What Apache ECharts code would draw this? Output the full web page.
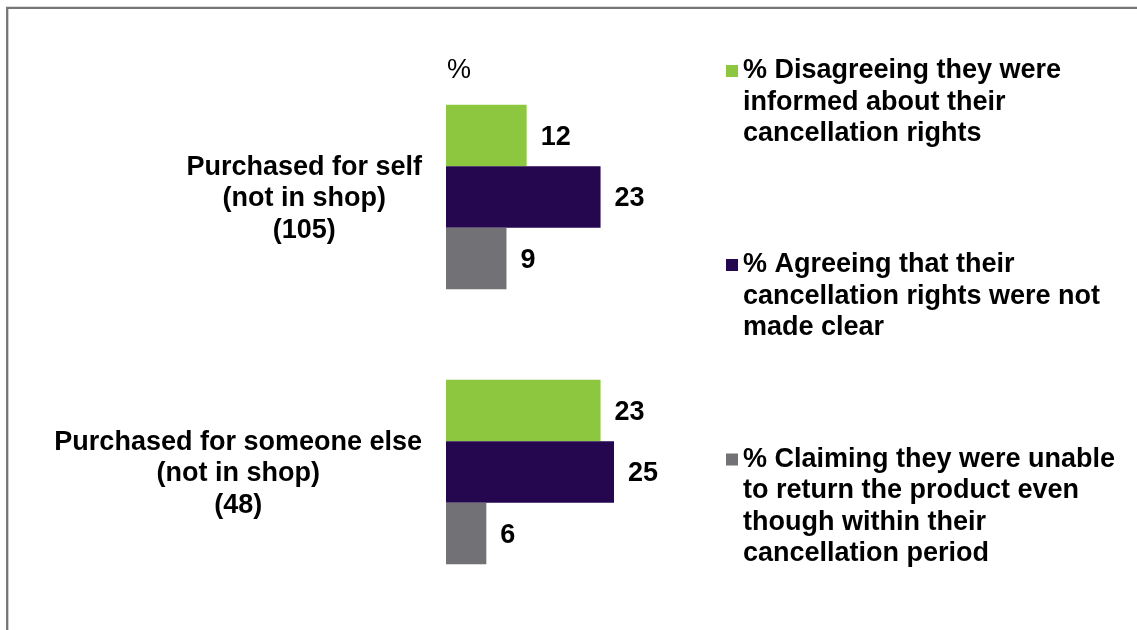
<!DOCTYPE html>
<html>
<head>
<meta charset="utf-8">
<title>Cancellation rights</title>
<script src="https://cdn.jsdelivr.net/npm/echarts@6/dist/echarts.min.js"></script>
<style>
  html, body { margin: 0; padding: 0; background: #ffffff; }
  #chart { width: 1137px; height: 630px; }
</style>
</head>
<body>
<div id="chart"></div>
<script>
// Purchase groups (base sizes in brackets)
const categories = [
  'Purchased for self\n(not in shop)\n(105)',
  'Purchased for someone else\n(not in shop)\n(48)'
];

// Series names
const seriesNames = [
  '% Disagreeing they were\ninformed about their\ncancellation rights',
  '% Agreeing that their\ncancellation rights were not\nmade clear',
  '% Claiming they were unable\nto return the product even\nthough within their\ncancellation period'
];

// Percentages per group
const disagreeInformed = [12, 23];
const agreeNotClear = [23, 25];
const unableToReturn = [9, 6];

const colors = ['#8dc63f', '#24074f', '#727176'];
const FONT = "'Liberation Sans', Arial, Helvetica, sans-serif";
const FS = 27;
const LH = 31.5;

const chart = echarts.init(document.getElementById('chart'), null, { renderer: 'canvas' });

// One legend per entry; leading blank lines keep the marker beside the first line of text
const legendFirstLine = [71, 265, 459.5];
const legends = seriesNames.map((name, i) => {
  const n = name.split('\n').length;
  return {
    data: [name],
    orient: 'vertical',
    left: 726,
    top: legendFirstLine[i] - (2 * n - 1) * LH / 2,
    padding: 0,
    itemWidth: 12,
    itemHeight: 12,
    icon: 'rect',
    selectedMode: false,
    formatter: (label) => '\n'.repeat(n - 1) + label,
    textStyle: {
      fontFamily: FONT,
      fontSize: FS,
      fontWeight: 'bold',
      color: '#000',
      lineHeight: LH
    }
  };
});

const valueLabel = {
  show: true,
  position: 'right',
  distance: 14,
  offset: [0, 2],
  fontFamily: FONT,
  fontSize: FS,
  fontWeight: 'bold',
  color: '#000'
};

const seriesData = [disagreeInformed, agreeNotClear, unableToReturn];

chart.setOption({
  animation: false,
  backgroundColor: '#ffffff',
  title: {
    text: '%',
    left: 447,
    top: 57,
    padding: 0,
    textStyle: { fontFamily: FONT, fontSize: FS, fontWeight: 'normal', color: '#000' }
  },
  legend: legends,
  grid: {
    left: 446,
    top: 59.5,
    width: 201.6,
    height: 550,
    containLabel: false
  },
  xAxis: {
    type: 'value',
    min: 0,
    max: 30,
    show: false
  },
  yAxis: {
    type: 'category',
    data: categories,
    inverse: true,
    axisLine: { show: false },
    axisTick: { show: false },
    splitLine: { show: false },
    axisLabel: {
      margin: 24,
      align: 'right',
      padding: [4, 0, 0, 0],
      fontFamily: FONT,
      fontSize: FS,
      fontWeight: 'bold',
      color: '#000',
      lineHeight: LH,
      formatter: (v) => v.split('\n').map(s => '{c|' + s + '}').join('\n'),
      rich: {
        c: {
          align: 'center',
          fontFamily: FONT,
          fontSize: FS,
          fontWeight: 'bold',
          color: '#000',
          lineHeight: LH
        }
      }
    }
  },
  series: seriesNames.map((name, i) => ({
    name: name,
    type: 'bar',
    data: seriesData[i],
    barWidth: 61.5,
    barGap: '0%',
    itemStyle: { color: colors[i] },
    label: valueLabel
  })),
  graphic: [{
    type: 'rect',
    shape: { x: 7.2, y: 7.8, width: 1300, height: 800 },
    style: { fill: null, stroke: '#767676', lineWidth: 2.3 },
    silent: true
  }]
});
</script>
</body>
</html>
